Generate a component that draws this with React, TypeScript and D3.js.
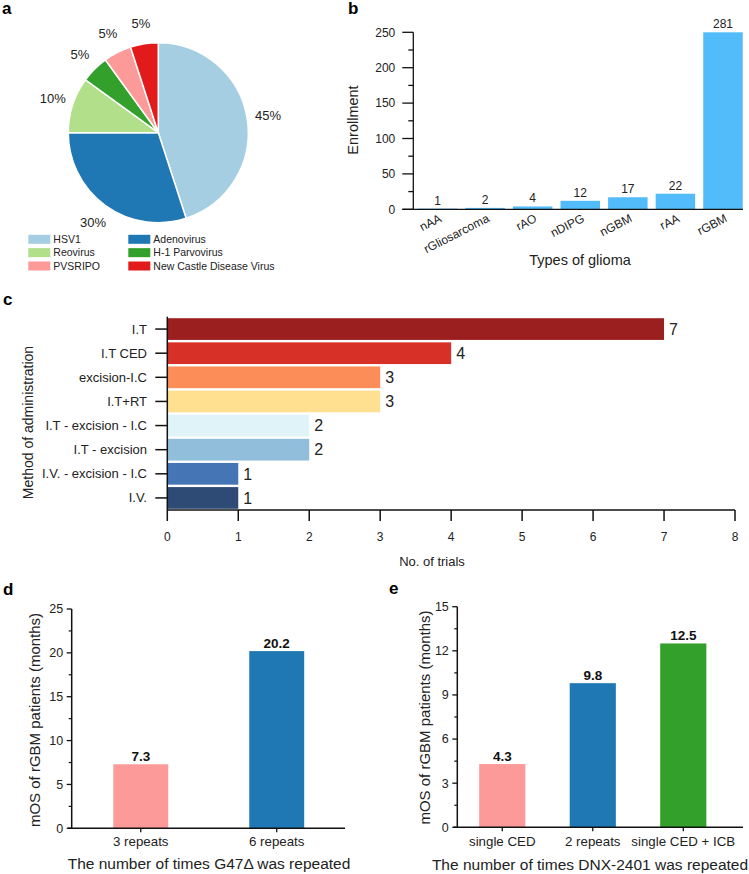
import React from 'react';
import * as d3 from 'd3';

const FONT = "'Liberation Sans', Arial, Helvetica, sans-serif";

// ---------- Panel a data ----------
const virusNames = ['HSV1', 'Adenovirus', 'Reovirus', 'H-1 Parvovirus', 'PVSRIPO', 'New Castle Disease Virus'];
const virusShares = [45, 30, 10, 5, 5, 5];
const virusColors = ['#a6cee3', '#1f78b4', '#b2df8a', '#33a02c', '#fb9a99', '#e31a1c'];

// ---------- Panel b data ----------
const gliomaTypes = ['nAA', 'rGliosarcoma', 'rAO', 'nDIPG', 'nGBM', 'rAA', 'rGBM'];
const enrollment = [1, 2, 4, 12, 17, 22, 281];
const enrollmentTicks = [0, 50, 100, 150, 200, 250];
const enrollmentMinorTicks = [25, 75, 125, 175, 225];

// ---------- Panel c data ----------
const methods = ['I.T', 'I.T CED', 'excision-I.C', 'I.T+RT', 'I.T - excision - I.C', 'I.T - excision', 'I.V. - excision - I.C', 'I.V.'];
const trials = [7, 4, 3, 3, 2, 2, 1, 1];
const methodColors = ['#9c1f1f', '#d73027', '#fc8d59', '#fee090', '#e0f3f8', '#91bfdb', '#4575b4', '#2d4b74'];
const trialTicks = [0, 1, 2, 3, 4, 5, 6, 7, 8];

// ---------- Panel d data ----------
const g47Groups = ['3 repeats', '6 repeats'];
const g47Mos = [7.3, 20.2];
const g47Colors = ['#fb9a99', '#1f78b4'];
const g47Ticks = [0, 5, 10, 15, 20, 25];
const g47MinorTicks = [2.5, 7.5, 12.5, 17.5, 22.5];

// ---------- Panel e data ----------
const dnxGroups = ['single CED', '2 repeats', 'single CED + ICB'];
const dnxMos = [4.3, 9.8, 12.5];
const dnxColors = ['#fb9a99', '#1f78b4', '#33a02c'];
const dnxTicks = [0, 3, 6, 9, 12, 15];
const dnxMinorTicks = [1.5, 4.5, 7.5, 10.5, 13.5];

function PanelA() {
  const cx = 158.3, cy = 132.7, r = 90;
  const pie = d3.pie<number>().sort(null).value((d) => d);
  const arcs = pie(virusShares);
  const arc = d3.arc<d3.PieArcDatum<number>>().innerRadius(0).outerRadius(r);
  const labelArc = d3.arc<d3.PieArcDatum<number>>().innerRadius(111).outerRadius(111);
  return (
    <g>
      <g transform={`translate(${cx},${cy})`}>
        {arcs.map((a, i) => (
          <path key={i} d={arc(a) || ''} fill={virusColors[i]} stroke="#fff" strokeWidth={1.5} />
        ))}
        {arcs.map((a, i) => {
          const [x, y] = labelArc.centroid(a);
          return (
            <text key={'l' + i} x={x} y={y} dy="0.35em" textAnchor="middle" fontSize={13} fill="#222">
              {virusShares[i]}%
            </text>
          );
        })}
      </g>
      {virusNames.map((n, i) => {
        const col = i % 2;
        const row = Math.floor(i / 2);
        const x = col === 0 ? 28.3 : 128.3;
        const y = 239.3 + row * 13.35;
        return (
          <g key={n}>
            <rect x={x} y={y - 4.5} width={22} height={9} fill={virusColors[i]} />
            <text x={x + 25} y={y} dy="0.35em" fontSize={10.5} fill="#222">{n}</text>
          </g>
        );
      })}
    </g>
  );
}

function PanelB() {
  const x = d3.scaleBand<string>().domain(gliomaTypes).range([413, 747.5]).paddingInner(0.17).paddingOuter(0.1);
  const y = d3.scaleLinear().domain([0, 250]).range([209.3, 32.3]).clamp(true);
  const x0 = 413.3;
  return (
    <g>
      {gliomaTypes.map((g, i) => (
        <rect key={g} x={x(g)} width={x.bandwidth()} y={y(enrollment[i])} height={y(0) - y(enrollment[i])} fill="#52bcfb" />
      ))}
      {gliomaTypes.map((g, i) => (
        <text key={'v' + g} x={(x(g) as number) + x.bandwidth() / 2} y={y(enrollment[i]) - 4} textAnchor="middle" fontSize={12} fill="#222">
          {enrollment[i]}
        </text>
      ))}
      <line x1={x0} x2={x0} y1={y(250)} y2={y(0)} stroke="#111" strokeWidth={1.3} />
      <line x1={x0 - 11} x2={743} y1={y(0)} y2={y(0)} stroke="#111" strokeWidth={1.3} />
      {enrollmentTicks.map((t) => (
        <g key={t}>
          <line x1={x0 - 11} x2={x0} y1={y(t)} y2={y(t)} stroke="#111" strokeWidth={1.3} />
          <text x={x0 - 18} y={y(t)} dy="0.35em" textAnchor="end" fontSize={12} fill="#222">{t}</text>
        </g>
      ))}
      {enrollmentMinorTicks.map((t) => (
        <line key={t} x1={x0 - 5} x2={x0} y1={y(t)} y2={y(t)} stroke="#111" strokeWidth={1.3} />
      ))}
      {gliomaTypes.map((g) => {
        const cx = (x(g) as number) + x.bandwidth() / 2 + 5;
        return (
          <text key={'t' + g} transform={`translate(${cx},${221}) rotate(-27)`} textAnchor="end" fontSize={12} fill="#222">
            {g}
          </text>
        );
      })}
      <text transform="translate(353,120) rotate(-90)" textAnchor="middle" dy="0.35em" fontSize={14.5} fill="#222">Enrollment</text>
      <text x={580} y={260} textAnchor="middle" dy="0.35em" fontSize={14.5} fill="#222">Types of glioma</text>
    </g>
  );
}

function PanelC() {
  const x = d3.scaleLinear().domain([0, 8]).range([167.3, 735]);
  const y = d3.scaleBand<string>().domain(methods).range([317, 510]).paddingInner(0.1).paddingOuter(0.05);
  return (
    <g>
      {methods.map((m, i) => (
        <rect key={m} x={x(0)} y={y(m)} width={x(trials[i]) - x(0)} height={y.bandwidth()} fill={methodColors[i]} />
      ))}
      {methods.map((m, i) => (
        <text key={'v' + m} x={x(trials[i]) + 5} y={(y(m) as number) + y.bandwidth() / 2} dy="0.36em" fontSize={16} fill="#222">
          {trials[i]}
        </text>
      ))}
      <line x1={x(0)} x2={x(0)} y1={316.7} y2={510} stroke="#111" strokeWidth={1.5} />
      <line x1={x(0)} x2={x(8)} y1={510} y2={510} stroke="#111" strokeWidth={1.5} />
      {methods.map((m) => {
        const cy = (y(m) as number) + y.bandwidth() / 2;
        return (
          <g key={'t' + m}>
            <line x1={x(0) - 12} x2={x(0)} y1={cy} y2={cy} stroke="#111" strokeWidth={1.5} />
            <text x={147} y={cy} dy="0.35em" textAnchor="end" fontSize={13} fill="#222">{m}</text>
          </g>
        );
      })}
      {trialTicks.map((t) => (
        <g key={t}>
          <line x1={x(t)} x2={x(t)} y1={510} y2={521} stroke="#111" strokeWidth={1.5} />
          <text x={x(t)} y={536.7} dy="0.35em" textAnchor="middle" fontSize={12} fill="#222">{t}</text>
        </g>
      ))}
      <text transform="translate(28.5,422.5) rotate(-90)" textAnchor="middle" dy="0.35em" fontSize={14} fill="#222">Method of administration</text>
      <text x={432} y={561.7} textAnchor="middle" dy="0.35em" fontSize={13} fill="#222">No. of trials</text>
    </g>
  );
}

function MosPanel(props: {
  groups: string[]; values: number[]; colors: string[]; ticks: number[]; minor: number[];
  yMax: number; x0: number; x1: number; axisEnd: number; y0: number; yTop: number;
  pi: number; po: number; align: number; ylabelX: number; ylabelY: number;
  title: string; titleX: number; titleY: number; tickLabelY: number;
}) {
  const p = props;
  const x = d3.scaleBand<string>().domain(p.groups).range([p.x0, p.x1]).paddingInner(p.pi).paddingOuter(p.po).align(p.align);
  const y = d3.scaleLinear().domain([0, p.yMax]).range([p.y0, p.yTop]);
  return (
    <g>
      {p.groups.map((g, i) => (
        <rect key={g} x={x(g)} width={x.bandwidth()} y={y(p.values[i])} height={y(0) - y(p.values[i])} fill={p.colors[i]} />
      ))}
      {p.groups.map((g, i) => (
        <text key={'v' + g} x={(x(g) as number) + x.bandwidth() / 2} y={y(p.values[i]) - 3} textAnchor="middle" fontSize={13.5} fontWeight="bold" fill="#111">
          {p.values[i].toFixed(1)}
        </text>
      ))}
      <line x1={p.x0} x2={p.x0} y1={y(p.yMax)} y2={y(0)} stroke="#111" strokeWidth={1.5} />
      <line x1={p.x0 - 4} x2={p.axisEnd} y1={y(0)} y2={y(0)} stroke="#111" strokeWidth={1.5} />
      {p.ticks.map((t) => (
        <g key={t}>
          <line x1={p.x0 - 5} x2={p.x0} y1={y(t)} y2={y(t)} stroke="#111" strokeWidth={1.3} />
          <text x={p.x0 - 8.5} y={y(t)} dy="0.35em" textAnchor="end" fontSize={12.5} fill="#222">{t}</text>
        </g>
      ))}
      {p.minor.map((t) => (
        <line key={t} x1={p.x0 - 3} x2={p.x0} y1={y(t)} y2={y(t)} stroke="#111" strokeWidth={1.2} />
      ))}
      {p.groups.map((g) => {
        const cx = (x(g) as number) + x.bandwidth() / 2;
        return (
          <g key={'t' + g}>
            <line x1={cx} x2={cx} y1={y(0)} y2={y(0) + 4} stroke="#111" strokeWidth={1.3} />
            <text x={cx} y={p.tickLabelY} dy="0.35em" textAnchor="middle" fontSize={13.3} fill="#222">{g}</text>
          </g>
        );
      })}
      <text transform={`translate(${p.ylabelX},${p.ylabelY}) rotate(-90)`} textAnchor="middle" dy="0.35em" fontSize={15} fill="#222">
        mOS of rGBM patients (months)
      </text>
      <text x={p.titleX} y={p.titleY} textAnchor="middle" dy="0.35em" fontSize={15.5} fill="#222">{p.title}</text>
    </g>
  );
}

export default function App() {
  return (
    <svg width={749} height={874} viewBox="0 0 749 874" style={{ position: 'absolute', left: 0, top: 0, display: 'block', background: '#fff' }} fontFamily={FONT}>
      <rect width={749} height={874} fill="#fff" />
      <text x={2} y={13.5} fontSize={17} fontWeight="bold">a</text>
      <text x={348} y={13.5} fontSize={17} fontWeight="bold">b</text>
      <text x={3} y={305} fontSize={17} fontWeight="bold">c</text>
      <text x={3} y={595} fontSize={17} fontWeight="bold">d</text>
      <text x={389} y={594} fontSize={17} fontWeight="bold">e</text>
      <PanelA />
      <PanelB />
      <PanelC />
      <MosPanel
        groups={g47Groups} values={g47Mos} colors={g47Colors} ticks={g47Ticks} minor={g47MinorTicks}
        yMax={25} x0={71.7} x1={345.8} axisEnd={345} y0={828.3} yTop={609}
        pi={0.596} po={0.306} align={0.5} ylabelX={35} ylabelY={720}
        title="The number of times G47Δ was repeated" titleX={209} titleY={864} tickLabelY={841.7}
      />
      <MosPanel
        groups={dnxGroups} values={dnxMos} colors={dnxColors} ticks={dnxTicks} minor={dnxMinorTicks}
        yMax={15} x0={457.3} x1={743} axisEnd={743} y0={827.3} yTop={606.7}
        pi={0.49} po={0.3235} align={0.374} ylabelX={425} ylabelY={717.5}
        title="The number of times DNX-2401 was repeated" titleX={590} titleY={865} tickLabelY={841}
      />
    </svg>
  );
}
